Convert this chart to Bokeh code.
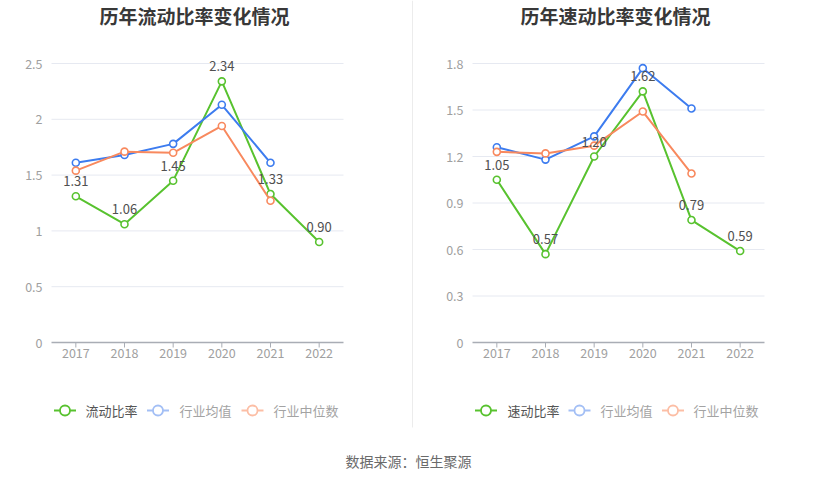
import math
from bokeh.plotting import figure
from bokeh.models import Range1d
from bokeh.embed import file_html
from bokeh.resources import INLINE
from bokeh.core.properties import value

# ---------------- data ----------------
years = ["2017", "2018", "2019", "2020", "2021", "2022"]
avg_years = ["2017", "2018", "2019", "2020", "2021"]

current_ratio = [1.31, 1.06, 1.45, 2.34, 1.33, 0.90]
current_ind_avg = [1.61, 1.68, 1.78, 2.13, 1.61]
current_ind_med = [1.54, 1.71, 1.70, 1.94, 1.27]

quick_ratio = [1.05, 0.57, 1.20, 1.62, 0.79, 0.59]
quick_ind_avg = [1.26, 1.18, 1.33, 1.77, 1.51]
quick_ind_med = [1.23, 1.22, 1.27, 1.49, 1.09]

left_ticks = [0, 0.5, 1, 1.5, 2, 2.5]
right_ticks = [0, 0.3, 0.6, 0.9, 1.2, 1.5, 1.8]

left_title = "历年流动比率变化情况"
right_title = "历年速动比率变化情况"
left_main_name = "流动比率"
right_main_name = "速动比率"
avg_name = "行业均值"
med_name = "行业中位数"
source_text = "数据来源：恒生聚源"

# ---------------- layout / style ----------------
FIGW, FIGH = 815, 479
FONT = "Noto Sans CJK SC"
GREEN = "#58c22f"
BLUE = "#3d7cef"
ORANGE = "#f8895e"
GREEN_L = "#58c22f"
BLUE_L = "#a3bff5"
ORANGE_L = "#fcbea5"
GRID = "#e6e9f1"
AXIS = "#a9adb5"
TICK_TXT = "#a0a0a0"

p = figure(width=FIGW, height=FIGH, x_range=Range1d(0, FIGW), y_range=Range1d(FIGH, 0),
           x_axis_location=None, y_axis_location=None, output_backend="svg",
           toolbar_location=None, min_border=0)
p.outline_line_color = None
p.xgrid.visible = False
p.ygrid.visible = False


def chart(key, frame_left, frame_top, frame_w, frame_h, ticks, main, avg, med,
          title, title_x, main_name, legend_x, legend_text_x):
    n = len(years)
    ymax = ticks[-1]
    u = frame_w / n
    s = ymax / frame_h
    p.extra_x_ranges[key] = Range1d(-0.5 - frame_left / u,
                                    n - 0.5 + (FIGW - frame_left - frame_w) / u)
    p.extra_y_ranges[key] = Range1d(-(FIGH - frame_top - frame_h) * s,
                                    ymax + frame_top * s)
    kw = dict(x_range_name=key, y_range_name=key)
    idx = list(range(n))
    pos = {y: i for i, y in enumerate(years)}
    aidx = [pos[y] for y in avg_years]
    grid_ticks = [t for t in ticks if t > 0]

    # grid lines
    p.segment(x0=[-0.5] * len(grid_ticks), x1=[n - 0.5] * len(grid_ticks),
              y0=grid_ticks, y1=grid_ticks, line_color=GRID, line_width=1, **kw)
    # x axis line and ticks
    p.segment(x0=[-0.5], x1=[n - 0.5], y0=[ticks[0]], y1=[ticks[0]],
              line_color=AXIS, line_width=1.6, **kw)
    p.ray(x=idx, y=[ticks[0]] * n, length=5, length_units="screen",
          angle=-math.pi / 2, line_color=AXIS, line_width=1, **kw)
    # tick labels
    p.text(x=idx, y=[ticks[0]] * n, text=years, text_font=value(FONT),
           text_font_size="12.5px", text_color=TICK_TXT, text_align="center",
           text_baseline="top", y_offset=5, **kw)
    p.text(x=[-0.5] * len(ticks), y=ticks, text=[f"{t:g}" for t in ticks],
           text_font=value(FONT), text_font_size="12.5px", text_color=TICK_TXT,
           text_align="right", text_baseline="middle", x_offset=-9, **kw)

    # series
    p.line(idx, main, line_color=GREEN, line_width=2, **kw)
    p.scatter(idx, main, size=7, marker="circle", line_color=GREEN,
              fill_color="white", line_width=1.6, **kw)
    p.line(aidx, avg, line_color=BLUE, line_width=2, **kw)
    p.scatter(aidx, avg, size=7, marker="circle", line_color=BLUE,
              fill_color="white", line_width=1.6, **kw)
    p.line(aidx, med, line_color=ORANGE, line_width=2, **kw)
    p.scatter(aidx, med, size=7, marker="circle", line_color=ORANGE,
              fill_color="white", line_width=1.6, **kw)
    p.text(idx, main, text=[f"{v:.2f}" for v in main], text_font=value(FONT),
           text_font_size="13px", text_color="#505050", text_align="center",
           text_baseline="bottom", y_offset=-10, **kw)

    # title
    p.text(x=[title_x], y=[15], text=[title], text_font=value(FONT),
           text_font_size="19px", text_font_style="bold", text_color="#383838",
           text_align="center", text_baseline="middle")

    # legend
    ly = 410
    names = [main_name, avg_name, med_name]
    gcols = [GREEN_L, BLUE_L, ORANGE_L]
    tcols = ["#555555", "#a3a3a3", "#a3a3a3"]
    p.segment(x0=[x - 11 for x in legend_x], x1=[x + 11 for x in legend_x],
              y0=[ly] * 3, y1=[ly] * 3, line_color=gcols, line_width=2)
    p.scatter(legend_x, [ly] * 3, size=10, marker="circle", line_color=gcols,
              fill_color="white", line_width=1.8)
    p.text(x=legend_text_x, y=[ly] * 3, text=names, text_font=value(FONT),
           text_font_size="13px", text_color=tcols, text_align="left",
           text_baseline="middle")


chart("left", 51, 63, 292, 279, left_ticks, current_ratio, current_ind_avg,
      current_ind_med, left_title, 194, left_main_name,
      [64.5, 157.5, 252], [85, 179, 273])
chart("right", 472, 63, 292, 279, right_ticks, quick_ratio, quick_ind_avg,
      quick_ind_med, right_title, 615, right_main_name,
      [485.5, 579, 672.5], [507, 600, 693])

# divider between the two panels
p.segment(x0=[412], x1=[412], y0=[0], y1=[427], line_color="#ececec", line_width=1)

# source note
p.text(x=[408], y=[460], text=[source_text], text_font=value(FONT),
       text_font_size="14px", text_color="#6a6a6a", text_align="center",
       text_baseline="middle")

open("out.html", "w").write(file_html(p, INLINE))
